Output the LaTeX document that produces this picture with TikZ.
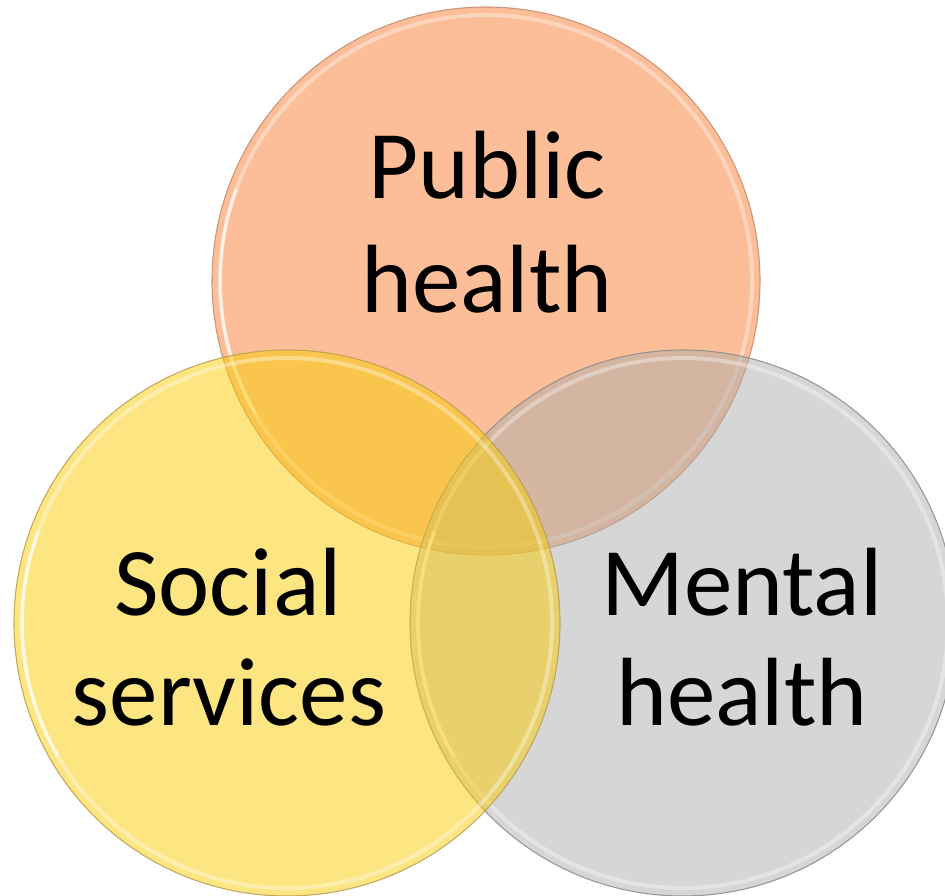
\documentclass[tikz,border=0pt]{standalone}
\usepackage{fontspec}
\setmainfont{Carlito}
\definecolor{topfill}{RGB}{247,125,49}
\definecolor{topline}{RGB}{196,140,108}
\definecolor{leftfill}{RGB}{251,205,5}
\definecolor{leftline}{RGB}{186,158,80}
\definecolor{rightfill}{RGB}{173,173,173}
\definecolor{rightline}{RGB}{140,140,140}
\tikzset{
  venn/.style={fill opacity=0.5, draw opacity=0.85, line width=1.1pt},
  rim/.style={draw=white, draw opacity=0.35, line width=4pt},
  gloss/.style={draw=white, draw opacity=0.7, line width=3pt, line cap=round},
  lbl/.style={anchor=base, inner sep=0pt, font=\fontsize{97}{113}\selectfont, text=black}
}
\begin{document}
\begin{tikzpicture}[x=1pt,y=-1pt]
\useasboundingbox (0,0) rectangle (945,896);
% circles
\coordinate (ct) at (486,281);
\coordinate (cl) at (287,623);
\coordinate (cr) at (683,623);
\draw[venn, fill=topfill, draw=topline] (ct) circle[radius=274];
\draw[rim] (ct) circle[radius=266];
\draw[gloss] ([shift={(150:266)}]ct) arc[start angle=150, end angle=200, radius=266];
\draw[venn, fill=rightfill, draw=rightline] (cr) circle[radius=273];
\draw[rim] (cr) circle[radius=265];
\draw[gloss] ([shift={(150:265)}]cr) arc[start angle=150, end angle=200, radius=265];
\draw[venn, fill=leftfill, draw=leftline] (cl) circle[radius=273];
\draw[rim] (cl) circle[radius=265];
\draw[gloss] ([shift={(150:265)}]cl) arc[start angle=150, end angle=200, radius=265];
% labels
\node[lbl] (ph1) at (487,199) {Public};
\node[lbl] (ph2) at (487,312) {health};
\node[lbl] (ss1) at (228,615) {Social};
\node[lbl] (ss2) at (229,725) {services};
\node[lbl] (mh1) at (742,615) {Mental};
\node[lbl] (mh2) at (742,725) {health};
\end{tikzpicture}
\end{document}
